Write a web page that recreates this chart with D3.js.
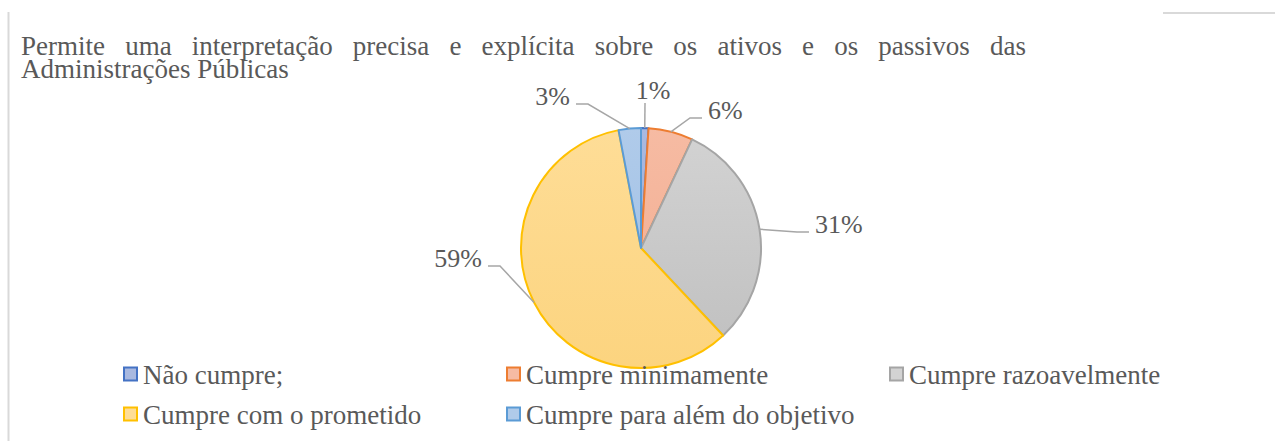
<!DOCTYPE html>
<html>
<head>
<meta charset="UTF-8" />
</head>
<body>
<script src="https://cdn.jsdelivr.net/npm/d3@7"></script>
<script>
// DADOS
const tituloL1 = "Permite uma interpretação precisa e explícita sobre os ativos e os passivos das";
const tituloL2 = "Administrações Públicas";
const categorias = ["Não cumpre;", "Cumpre minimamente", "Cumpre razoavelmente", "Cumpre com o prometido", "Cumpre para além do objetivo"];
const valores = [1, 6, 31, 59, 3];
const rotulos = ["1%", "6%", "31%", "59%", "3%"];

// cores (contorno / preenchimento topo / preenchimento base)
const contorno = ["#4472c4", "#ed7d31", "#a5a5a5", "#ffc000", "#5b9bd5"];
const topo = ["#a9b9e0", "#f6bba3", "#d3d3d3", "#fedd97", "#b0cbea"];
const base = ["#96a9d6", "#f2ab8e", "#bfbfbf", "#fcd47f", "#9cbde3"];

// cotovelo das linhas de chamada, relativo ao centro
const cotovelos = [[4, -145], [49, -130], [156, -16], [-141, 18], [-53, -144]];

const w = 1275, h = 441;
const cx = 641, cy = 248, r = 120;
const corTexto = "#595959";

const svg = d3.select("body").append("svg")
  .attr("width", w).attr("height", h)
  .style("position", "absolute").style("left", "0px").style("top", "0px");

// moldura
svg.append("line").attr("x1", 8.5).attr("x2", 8.5).attr("y1", 12).attr("y2", h)
  .attr("stroke", "#d9d9d9").attr("stroke-width", 2);
svg.append("line").attr("x1", 1163).attr("x2", w).attr("y1", 13).attr("y2", 13)
  .attr("stroke", "#d9d9d9").attr("stroke-width", 2);

const texto = (g, tam) => g.append("text")
  .attr("font-family", "Liberation Serif").attr("font-size", tam).attr("fill", corTexto);

// TITULO (um so texto, duas linhas; a primeira justificada com word-spacing)
const x0 = 21, x1 = 1026;
const tTitulo = texto(svg, 27).attr("x", x0).attr("y", 55);
const l1 = tTitulo.append("tspan").attr("x", x0).attr("y", 55).text(tituloL1);
const natural = l1.node().getComputedTextLength();
const espacos = tituloL1.split(" ").length - 1;
l1.attr("word-spacing", (x1 - x0 - natural) / espacos);
tTitulo.append("tspan").attr("x", x0).attr("y", 78).text(tituloL2);

// GRADIENTES
const defs = svg.append("defs");
valores.forEach((v, i) => {
  const g = defs.append("linearGradient").attr("id", "grad" + i)
    .attr("gradientUnits", "userSpaceOnUse")
    .attr("x1", 0).attr("x2", 0).attr("y1", -r).attr("y2", r);
  g.append("stop").attr("offset", "0%").attr("stop-color", topo[i]);
  g.append("stop").attr("offset", "100%").attr("stop-color", base[i]);
});

// PIZZA
const pie = d3.pie().sort(null).value(d => d);
const arcs = pie(valores);
const arc = d3.arc().innerRadius(0).outerRadius(r);

const gP = svg.append("g").attr("transform", `translate(${cx},${cy})`);
gP.selectAll("path").data(arcs).enter().append("path")
  .attr("d", arc)
  .attr("fill", (d, i) => `url(#grad${i})`)
  .attr("stroke", (d, i) => contorno[i])
  .attr("stroke-width", 2)
  .attr("stroke-linejoin", "round");

// ROTULOS
arcs.forEach((d, i) => {
  const a = (d.startAngle + d.endAngle) / 2;
  const px = Math.sin(a) * r, py = -Math.cos(a) * r;
  const [ex, ey] = cotovelos[i];
  const dir = ex >= 0 ? 1 : -1;
  const fim = i === 0 ? [ex, ey] : [ex + dir * 12, ey];
  gP.append("polyline")
    .attr("points", [[px, py], [ex, ey], fim].map(p => p.join(",")).join(" "))
    .attr("fill", "none").attr("stroke", "#a6a6a6").attr("stroke-width", 1.5);
  const t = texto(gP, 26).text(rotulos[i]);
  if (i === 0) {
    t.attr("x", ex + 8).attr("y", ey - 4).attr("text-anchor", "middle");
  } else {
    t.attr("x", fim[0] + dir * 6).attr("y", ey + 1)
      .attr("text-anchor", dir > 0 ? "start" : "end");
  }
});

// LEGENDA
const gL = svg.append("g");
categorias.forEach((c, i) => {
  const col = i % 3, lin = Math.floor(i / 3);
  const lx = 124 + col * 383, ly = 374 + lin * 40;
  gL.append("rect").attr("x", lx).attr("y", ly - 6.5).attr("width", 13).attr("height", 13)
    .attr("fill", topo[i]).attr("stroke", contorno[i]).attr("stroke-width", 2);
  texto(gL, 27).attr("x", lx + 19).attr("y", ly + 10).text(c);
});
</script>
</body>
</html>
